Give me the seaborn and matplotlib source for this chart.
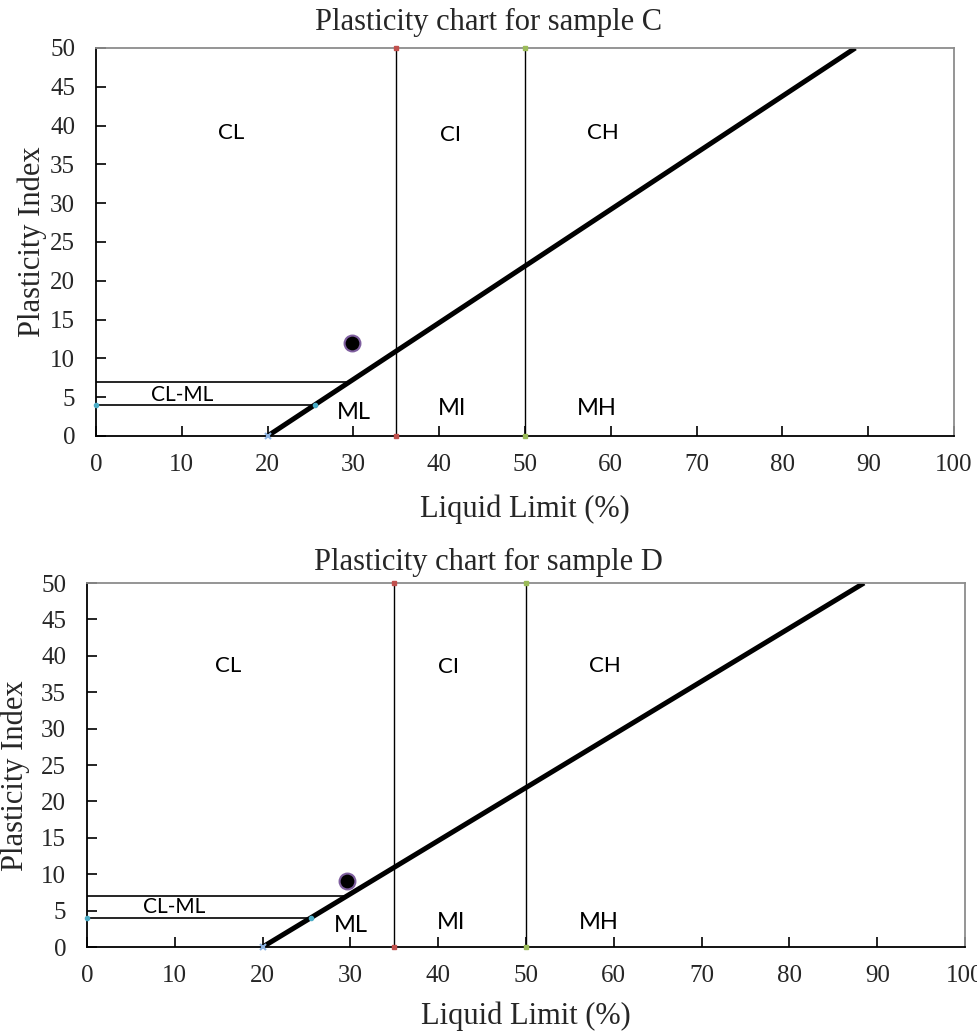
import matplotlib
matplotlib.use("Agg")
import matplotlib.pyplot as plt
import seaborn as sns
import pandas as pd

# ---- data ----
sample_titles = ["Plasticity chart for sample C", "Plasticity chart for sample D"]
sample_ll = [29.8, 29.6]          # liquid limit of the tested sample
sample_pi = [12.0, 9.0]           # plasticity index of the tested sample

aline_ll = [20.0, 88.5]           # A-line  PI = 0.73 (LL - 20)
aline_pi = [0.0, 50.0]

boundary_ll = [35.0, 50.0]        # low / intermediate / high boundaries
boundary_pi = [0.0, 50.0]

band_pi = [7.0, 4.0]              # CL-ML band limits
band_ll_end = [29.6, 25.5]

zone_names = ["CL", "CI", "CH", "CL-ML", "ML", "MI", "MH"]
zone_ll = [[15.7, 41.3, 59.1, 10.0, 30.0, 41.5, 58.4],
           [16.1, 41.2, 59.0, 9.9, 30.0, 41.5, 58.3]]
zone_pi = [[39.0, 38.8, 39.0, 5.3, 3.0, 3.5, 3.5],
           [38.6, 38.4, 38.6, 5.5, 3.0, 3.4, 3.4]]
zone_size = [16, 16, 16, 15, 17, 17, 17]

x_ticks = [0, 10, 20, 30, 40, 50, 60, 70, 80, 90, 100]
y_ticks = [0, 5, 10, 15, 20, 25, 30, 35, 40, 45, 50]

sns.set_theme(style="white")
plt.rcParams["font.family"] = ["Liberation Serif", "DejaVu Serif"]

fig = plt.figure(figsize=(9.77, 10.31), dpi=100)
axes_rects = [[96 / 977, 1 - 436 / 1031, 858 / 977, 388 / 1031],
              [87 / 977, 1 - 947 / 1031, 878 / 977, 364 / 1031]]
title_y = [1 - 22 / 1031, 1 - 562 / 1031]
ylabel_x = [-0.057, -0.065]
ylabel_y = [0.5, 0.47]

for i in range(2):
    ax = fig.add_axes(axes_rects[i])
    ax.set_xlim(0, 100)
    ax.set_ylim(0, 50)

    # boundaries
    for j, llb in enumerate(boundary_ll):
        bdf = pd.DataFrame({"LL": [llb, llb], "PI": boundary_pi})
        sns.lineplot(data=bdf, x="LL", y="PI", ax=ax, color="black", lw=1.0,
                     estimator=None, sort=False)
        ax.plot([llb, llb], boundary_pi, ls="none", marker="s", ms=3,
                color=["#c0504d", "#9bbb59"][j], clip_on=False, zorder=5)

    # CL-ML band
    for pi_v, ll_end in zip(band_pi, band_ll_end):
        hdf = pd.DataFrame({"LL": [0, ll_end], "PI": [pi_v, pi_v]})
        sns.lineplot(data=hdf, x="LL", y="PI", ax=ax, color="black", lw=1.2,
                     estimator=None, sort=False)
    ax.plot([0, band_ll_end[1]], [band_pi[1], band_pi[1]], ls="none",
            marker="o", ms=3, color="#4bacc6", clip_on=False, zorder=5)

    # A-line
    adf = pd.DataFrame({"LL": aline_ll, "PI": aline_pi})
    sns.lineplot(data=adf, x="LL", y="PI", ax=ax, color="black", lw=3.6,
                 estimator=None, sort=False, solid_capstyle="butt")
    ax.plot([aline_ll[0]], [aline_pi[0]], ls="none", marker="x", ms=5,
            mew=1.5, color="#8eb4e3", clip_on=False, zorder=6)

    # sample point
    sdf = pd.DataFrame({"LL": [sample_ll[i]], "PI": [sample_pi[i]]})
    sns.scatterplot(data=sdf, x="LL", y="PI", ax=ax, s=130, color="black",
                    edgecolor="#7f5f9f", linewidth=1.5, zorder=7)

    # zone labels
    for name, lx, ly, fs in zip(zone_names, zone_ll[i], zone_pi[i], zone_size):
        ax.text(lx, ly, name, ha="center", va="center", fontsize=fs,
                family=["Lato", "DejaVu Sans"], color="black")

    ax.set_xticks(x_ticks)
    ax.set_yticks(y_ticks)
    ax.tick_params(axis="both", direction="in", length=7, width=1.2,
                   color="black", labelsize=18, pad=13,
                   bottom=True, left=True, top=False, right=False)
    ax.tick_params(axis="y", pad=15)
    for s in ["left", "bottom"]:
        ax.spines[s].set_color("black")
        ax.spines[s].set_linewidth(1.3)
    for s in ["top", "right"]:
        ax.spines[s].set_color("#8c8c8c")
        ax.spines[s].set_linewidth(1.3)
    ax.set_xlabel("Liquid Limit (%)", fontsize=22)
    ax.set_ylabel("Plasticity Index", fontsize=22)
    ax.xaxis.set_label_coords(0.5, -0.15)
    ax.yaxis.set_label_coords(ylabel_x[i], ylabel_y[i])
    fig.text(0.5, title_y[i], sample_titles[i], ha="center", va="center",
             fontsize=22)

fig.savefig("out.png", dpi=100)
